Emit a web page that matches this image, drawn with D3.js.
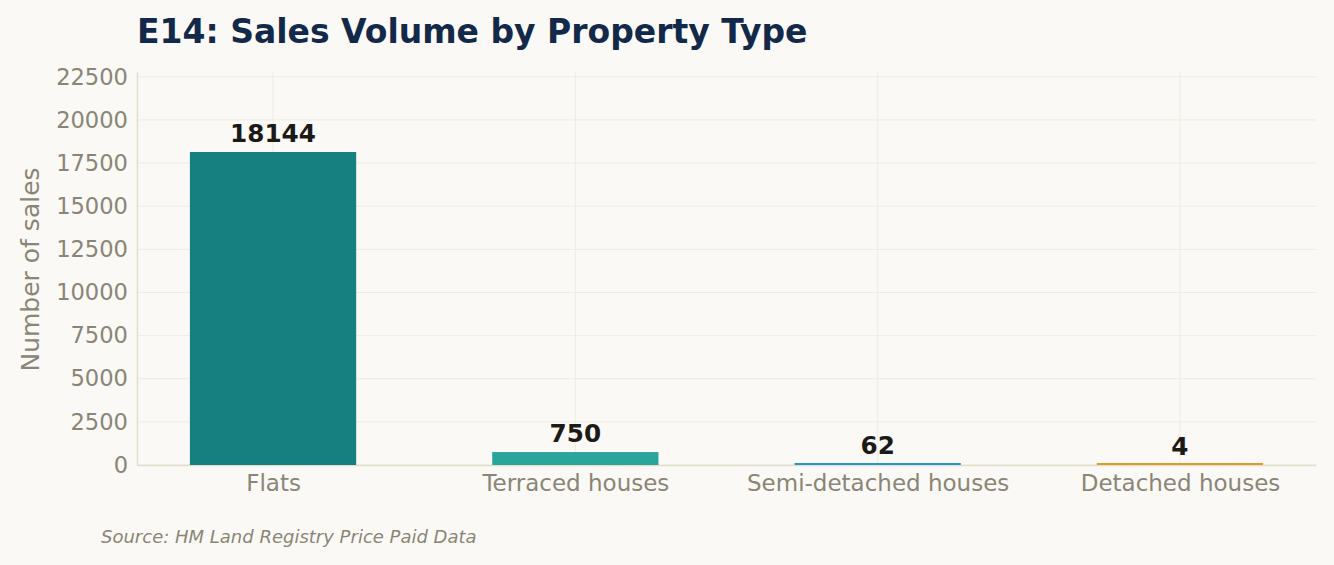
<!DOCTYPE html>
<html>
<head>
<meta charset="utf-8">
<script src="https://cdn.jsdelivr.net/npm/d3@7"></script>
<style>
  html, body { margin: 0; padding: 0; background: #faf9f5; }
  svg { display: block; font-family: "DejaVu Sans", sans-serif; }
</style>
</head>
<body>
<div id="chart"></div>
<script>
// data
const categories = ["Flats", "Terraced houses", "Semi-detached houses", "Detached houses"];
const sales = [18144, 750, 62, 4];
const barColors = ["#167f7f", "#2aa59b", "#2196d3", "#e09a2a"];
const yTicks = [0, 2500, 5000, 7500, 10000, 12500, 15000, 17500, 20000, 22500];

const width = 1334, height = 565;
const margin = { top: 72, right: 18, bottom: 100, left: 137 };
const innerW = width - margin.left - margin.right,
  innerH = height - margin.top - margin.bottom;

const svg = d3.select("#chart")
  .append("svg")
  .attr("width", width)
  .attr("height", height);

svg.append("rect").attr("width", width).attr("height", height).attr("fill", "#faf9f5");

const g = svg.append("g")
  .attr("transform", "translate(" + margin.left + "," + margin.top + ")");

// x is a linear scale over category index, like matplotlib
const x = d3.scaleLinear().domain([-0.45, categories.length - 1 + 0.45]).range([0, innerW]);
const y = d3.scaleLinear().domain([0, 22780]).range([innerH, 0]);
const barW = x(0.55) - x(0);

// grid
g.append("g").selectAll("line.hg")
  .data(yTicks)
  .enter().append("line")
  .attr("x1", 0).attr("x2", innerW)
  .attr("y1", d => y(d)).attr("y2", d => y(d))
  .attr("stroke", "#efebe2").attr("stroke-width", 1);

g.append("g").selectAll("line.vg")
  .data(categories)
  .enter().append("line")
  .attr("x1", (d, i) => x(i)).attr("x2", (d, i) => x(i))
  .attr("y1", 0).attr("y2", innerH)
  .attr("stroke", "#efebe2").attr("stroke-width", 1);

// axes
const yAxis = g.append("g")
  .call(d3.axisLeft(y).tickValues(yTicks).tickSize(0).tickPadding(9).tickFormat(d3.format("d")));
yAxis.select(".domain").attr("stroke", "#e3ddcc").attr("stroke-width", 1.5);
yAxis.selectAll("text").attr("font-size", 22.6).attr("fill", "#8a8576").attr("font-family", "DejaVu Sans");

const xAxis = g.append("g")
  .attr("transform", "translate(0," + innerH + ")")
  .call(d3.axisBottom(x).tickValues(d3.range(categories.length)).tickSize(0).tickPadding(10)
    .tickFormat(i => categories[i]));
xAxis.select(".domain").attr("stroke", "#e3ddcc").attr("stroke-width", 1.5);
xAxis.selectAll("text").attr("font-size", 23).attr("fill", "#8a8576").attr("font-family", "DejaVu Sans");

// bars (drawn over the spine so tiny values stay visible)
g.selectAll("rect.bar")
  .data(sales)
  .enter().append("rect")
  .attr("class", "bar")
  .attr("x", (d, i) => x(i) - barW / 2)
  .attr("y", d => Math.min(y(d), innerH - 2))
  .attr("width", barW)
  .attr("height", d => Math.max(innerH - y(d), 2))
  .attr("fill", (d, i) => barColors[i]);

// value labels
g.selectAll("text.val")
  .data(sales)
  .enter().append("text")
  .attr("x", (d, i) => x(i))
  .attr("y", d => y(d) - 10)
  .attr("text-anchor", "middle")
  .attr("font-size", 24.7)
  .attr("font-weight", "bold")
  .attr("fill", "#1c1a17")
  .text(d => d);

// axis title
svg.append("text")
  .attr("transform", "translate(39," + (margin.top + innerH / 2 + 1) + ") rotate(-90)")
  .attr("text-anchor", "middle")
  .attr("font-size", 25)
  .attr("fill", "#8a8576")
  .text("Number of sales");

// title
svg.append("text")
  .attr("x", 137).attr("y", 43)
  .attr("font-size", 33)
  .attr("font-weight", "bold")
  .attr("fill", "#12294a")
  .text("E14: Sales Volume by Property Type");

// source
svg.append("text")
  .attr("x", 101).attr("y", 543)
  .attr("font-size", 18)
  .attr("font-style", "italic")
  .attr("fill", "#8a8576")
  .text("Source: HM Land Registry Price Paid Data");
</script>
</body>
</html>
